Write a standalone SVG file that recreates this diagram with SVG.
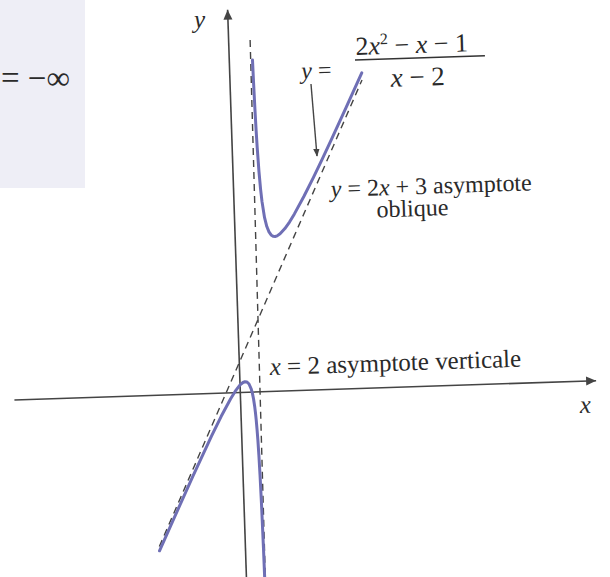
<svg xmlns="http://www.w3.org/2000/svg" width="610" height="577" viewBox="0 0 610 577">
<style>
.t{font-family:"Liberation Serif","Times New Roman",serif;fill:#2a2a2a;}
.i{font-style:italic;}
.ax{stroke:#444;stroke-width:1.6;fill:none;}
.dash{stroke:#444;stroke-width:1.4;fill:none;stroke-dasharray:7 5;}
.curve{stroke:#6f6fb5;stroke-width:3;fill:none;stroke-linejoin:round;stroke-linecap:round;}
</style>
<defs>
<marker id="arr" viewBox="0 0 10 10" refX="9" refY="5" markerWidth="8" markerHeight="8" markerUnits="userSpaceOnUse" orient="auto">
<path d="M0,1 L10,5 L0,9 Z" fill="#444"/>
</marker>
<marker id="arrAx" viewBox="0 0 10 10" refX="10" refY="5" markerWidth="16" markerHeight="10" markerUnits="userSpaceOnUse" orient="auto">
<path d="M0,0.5 L10,5 L0,9.5 Z" fill="#444"/>
</marker>
</defs>
<rect id="panel" x="0" y="0" width="85" height="188" fill="#eeeef6"/>
<text id="panel-text" class="t" x="1" y="89" font-size="33" fill="#555">= −∞</text>
<g id="plot" transform="translate(240.3 392.5) rotate(-1.9)">
<g id="connectors">
<line id="x-axis" class="ax" x1="-226" y1="0" x2="356" y2="0" marker-end="url(#arrAx)"/>
<line id="y-axis" class="ax" x1="0" y1="195" x2="0" y2="-383" marker-end="url(#arrAx)"/>
<line id="asym-vert" class="dash" x1="21.5" y1="-352" x2="18.8" y2="195"/>
<line id="asym-obl" class="dash" x1="-86" y1="151.3" x2="132" y2="-308.3"/>
</g>
<g id="curve">
<path id="branch-upper" class="curve" d="M23.2,-332 L23.5,-310.9 L24,-283.1 L24.5,-261.6 L25,-244.7 L26,-219.8 L27,-202.6 L28,-190.3 L30,-174.2 L32,-165 L34,-159.6 L36,-156.5 L38,-155.1 L40,-154.8 L42,-155.3 L45,-157.3 L50,-162.4 L55,-169 L60,-176.7 L70,-193.8 L80,-212.1 L90,-231.3 L100,-250.9 L115,-280.9 L132,-315.5"/>
<path id="branch-lower" class="curve" d="M-86,155.5 L-70,122.6 L-50,81.8 L-30,42.2 L-20,23.4 L-10,6.1 L-5,-1.5 L0,-7.55 L3,-9.9 L5,-10.6 L7,-10.3 L9,-8.2 L11,-3.3 L12,0.8 L13,6.7 L14,15.3 L14.5,21 L15,28.2 L15.5,37.1 L16,48.5 L16.5,63.5 L17,83.9 L17.5,112.7 L18,156.6 L18.3,195.5"/>
</g>
</g>
<line id="pointer" stroke="#444" stroke-width="1.4" x1="311" y1="84" x2="317" y2="156" marker-end="url(#arr)"/>
<g id="labels">
<text class="t i" x="194" y="28" font-size="25">y</text>
<text class="t i" x="580" y="413" font-size="25" transform="rotate(-1.9 580 413)">x</text>
<g id="formula" transform="rotate(-1.9 355 60)">
<text class="t" x="301" y="77" font-size="24"><tspan class="i">y</tspan> =</text>
<text class="t" x="356" y="55" font-size="26">2<tspan class="i">x</tspan><tspan font-size="16" dy="-10">2</tspan><tspan dy="10"> − </tspan><tspan class="i">x</tspan> − 1</text>
<line x1="355" y1="60" x2="485" y2="60" stroke="#333" stroke-width="1.6"/>
<text class="t" x="390" y="88" font-size="27"><tspan class="i">x</tspan> − 2</text>
</g>
<g id="label-oblique" transform="rotate(-1.9 331 197)">
<text class="t" x="331" y="197" font-size="24"><tspan class="i">y</tspan> = 2<tspan class="i">x</tspan> + 3 asymptote</text>
<text class="t" x="376" y="219" font-size="24">oblique</text>
</g>
<text id="label-vert" class="t" x="270" y="375" font-size="25" transform="rotate(-1.9 270 375)"><tspan class="i">x</tspan> = 2 asymptote verticale</text>
</g>
</svg>
